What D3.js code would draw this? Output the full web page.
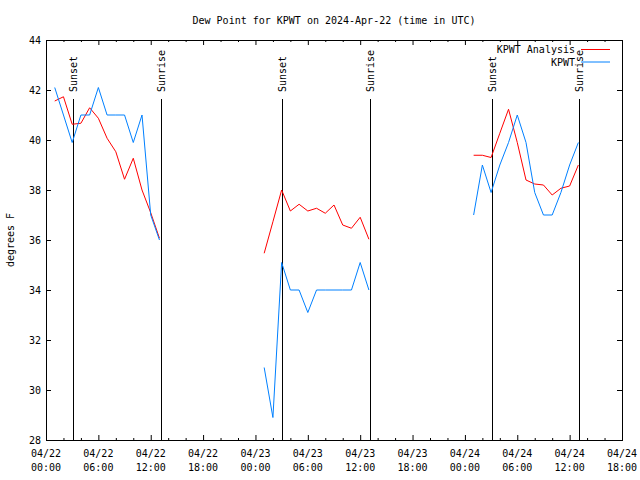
<!DOCTYPE html>
<html><head><meta charset="utf-8">
<script src="https://cdn.jsdelivr.net/npm/d3@7"></script>
<style>
body{margin:0;background:#fff;}
svg{display:block;}
text{font-family:"DejaVu Sans Mono","Liberation Mono",monospace;font-size:10px;fill:#000;}
</style></head>
<body>
<svg id="c" width="640" height="480"></svg>
<script>
const title = "Dew Point for KPWT on 2024-Apr-22 (time in UTC)";
const yLabel = "degrees F";
const seriesNames = ["KPWT Analysis", "KPWT"];
const seriesColors = ["#ff0000", "#0080ff"];
const times = [
 "2024-04-22T01:00Z","2024-04-22T02:00Z","2024-04-22T03:00Z","2024-04-22T04:00Z","2024-04-22T05:00Z","2024-04-22T06:00Z","2024-04-22T07:00Z","2024-04-22T08:00Z","2024-04-22T09:00Z","2024-04-22T10:00Z","2024-04-22T11:00Z","2024-04-22T12:00Z","2024-04-22T13:00Z",
 "2024-04-23T01:00Z","2024-04-23T02:00Z","2024-04-23T03:00Z","2024-04-23T04:00Z","2024-04-23T05:00Z","2024-04-23T06:00Z","2024-04-23T07:00Z","2024-04-23T08:00Z","2024-04-23T09:00Z","2024-04-23T10:00Z","2024-04-23T11:00Z","2024-04-23T12:00Z","2024-04-23T13:00Z",
 "2024-04-24T01:00Z","2024-04-24T02:00Z","2024-04-24T03:00Z","2024-04-24T04:00Z","2024-04-24T05:00Z","2024-04-24T06:00Z","2024-04-24T07:00Z","2024-04-24T08:00Z","2024-04-24T09:00Z","2024-04-24T10:00Z","2024-04-24T11:00Z","2024-04-24T12:00Z","2024-04-24T13:00Z"
];
const analysis = [
 41.56,41.73,40.63,40.67,41.29,40.87,40.07,39.53,38.43,39.27,38.0,37.09,36.07,
 35.47,36.73,38.0,37.16,37.43,37.16,37.27,37.07,37.4,36.6,36.47,36.91,36.03,
 39.39,39.39,39.3,40.27,41.23,39.9,38.4,38.24,38.2,37.8,38.07,38.16,39.0
];
const observed = [
 42.1,41.0,39.9,41.0,41.0,42.1,41.0,41.0,41.0,39.9,41.0,37.0,36.0,
 30.9,28.9,35.1,34.0,34.0,33.1,34.0,34.0,34.0,34.0,34.0,35.1,34.0,
 37.0,39.0,37.9,39.0,39.9,41.0,39.9,37.9,37.0,37.0,37.9,39.0,39.9
];
const sunEvents = [
 ["Sunset","2024-04-22T03:05Z"],["Sunrise","2024-04-22T13:08Z"],
 ["Sunset","2024-04-23T03:05Z"],["Sunrise","2024-04-23T13:09Z"],
 ["Sunset","2024-04-24T03:03Z"],["Sunrise","2024-04-24T13:04Z"]
];
const xDomain = ["2024-04-22T00:00Z","2024-04-24T18:00Z"];
const yDomain = [28, 44];
const yTicks = [28,30,32,34,36,38,40,42,44];

const L=46, R=622, T=40, B=440;
const svg = d3.select("#c");
const x = d3.scaleUtc().domain(xDomain.map(d=>new Date(d))).range([L,R]);
const y = d3.scaleLinear().domain(yDomain).range([B,T]);
const majorX = d3.utcHour.every(6).range(new Date(xDomain[0]), d3.utcHour.offset(new Date(xDomain[1]),1));
const minorX = d3.utcHour.every(2).range(new Date(xDomain[0]), d3.utcHour.offset(new Date(xDomain[1]),1)).filter(d=>d.getUTCHours()%6!==0);

function styleAxis(g){ g.select(".domain").remove(); g.selectAll("line").attr("stroke","#000"); g.selectAll("text").remove(); }

// minor ticks
svg.append("g").attr("transform",`translate(0,${B})`).call(d3.axisBottom(x).tickValues(minorX).tickSizeInner(-2).tickSizeOuter(0)).call(styleAxis);
svg.append("g").attr("transform",`translate(0,${T})`).call(d3.axisTop(x).tickValues(minorX).tickSizeInner(-2).tickSizeOuter(0)).call(styleAxis);
// major ticks
svg.append("g").attr("transform",`translate(0,${B})`).call(d3.axisBottom(x).tickValues(majorX).tickSizeInner(-5).tickSizeOuter(0)).call(styleAxis);
svg.append("g").attr("transform",`translate(0,${T})`).call(d3.axisTop(x).tickValues(majorX).tickSizeInner(-5).tickSizeOuter(0)).call(styleAxis);
svg.append("g").attr("transform",`translate(${R},0)`).call(d3.axisRight(y).tickValues(yTicks).tickSizeInner(-5).tickSizeOuter(0)).call(styleAxis);
const gl = svg.append("g").attr("transform",`translate(${L},0)`).call(d3.axisLeft(y).tickValues(yTicks).tickSizeInner(-5).tickSizeOuter(0).tickPadding(5));
gl.select(".domain").remove();
gl.selectAll("line").attr("stroke","#000");
gl.selectAll("text").attr("font-family",null).attr("font-size",null).attr("fill","#000");

// x labels two lines
const fmtD = d3.utcFormat("%m/%d"), fmtT = d3.utcFormat("%H:%M");
const xl = svg.append("g");
majorX.forEach(d=>{
  const t = xl.append("text").attr("text-anchor","middle").attr("x", x(d));
  t.append("tspan").attr("x",x(d)).attr("y",457).text(fmtD(d));
  t.append("tspan").attr("x",x(d)).attr("y",471).text(fmtT(d));
});

// border
svg.append("rect").attr("x",L+0.5).attr("y",T+0.5).attr("width",R-L).attr("height",B-T)
  .attr("fill","none").attr("stroke","#000").attr("shape-rendering","crispEdges");

// sun events
sunEvents.forEach(([lab,t])=>{
  const xx = Math.round(x(new Date(t)))+0.5;
  svg.append("line").attr("x1",xx).attr("x2",xx).attr("y1",99).attr("y2",B)
    .attr("stroke","#000").attr("stroke-width",1).attr("shape-rendering","crispEdges");
  svg.append("text").attr("transform",`translate(${xx},92) rotate(-90)`).attr("dy","0.35em").text(lab);
});

// series
const pts = (vals)=>times.map((t,i)=>({t:new Date(t), v:vals[i]}));
function segments(arr){
  const segs=[]; let cur=[];
  arr.forEach((p,i)=>{
    if(i>0 && (p.t - arr[i-1].t) > 1.5*3600e3){ segs.push(cur); cur=[]; }
    cur.push(p);
  });
  segs.push(cur); return segs;
}
const line = d3.line().x(d=>x(d.t)).y(d=>y(d.v));
[analysis, observed].forEach((vals,k)=>{
  segments(pts(vals)).forEach(seg=>{
    svg.append("path").attr("d",line(seg)).attr("fill","none")
      .attr("stroke",seriesColors[k]).attr("stroke-width",1);
  });
});

// legend
const legY = [49.5, 62];
seriesNames.forEach((n,k)=>{
  svg.append("text").attr("x",575).attr("y",legY[k]+3.5).attr("text-anchor","end").text(n);
  svg.append("line").attr("x1",581).attr("x2",610).attr("y1",legY[k]).attr("y2",legY[k])
    .attr("stroke",seriesColors[k]).attr("stroke-width",1);
});

// title & y label
svg.append("text").attr("x",(L+R)/2).attr("y",24).attr("text-anchor","middle").text(title);
svg.append("text").attr("transform","translate(14,240) rotate(-90)").attr("text-anchor","middle").text(yLabel);
</script>
</body></html>
